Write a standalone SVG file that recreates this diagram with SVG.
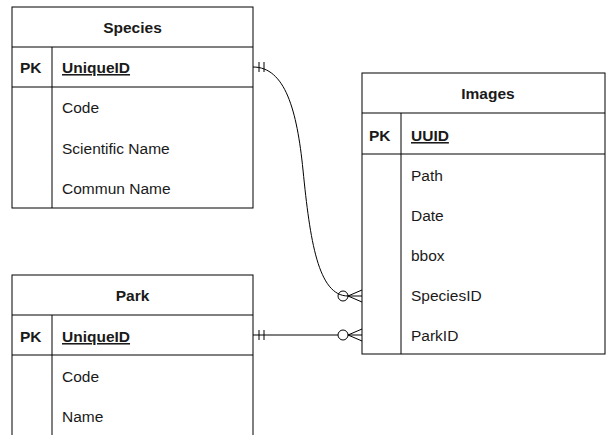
<svg xmlns="http://www.w3.org/2000/svg" width="606" height="435" viewBox="0 0 606 435">
<style>
.box{fill:#fff;stroke:#000;stroke-width:1}
.ln{stroke:#000;stroke-width:1;fill:none}
text{font-family:"Liberation Sans",Arial,sans-serif;font-size:15.5px;fill:#1a1a1a}
.t{font-weight:bold;text-anchor:middle}
.pk{font-weight:bold}
.u{font-weight:bold;text-decoration:underline}
.c{stroke:#000;stroke-width:1;fill:none}
</style>
<rect width="606" height="435" fill="#fff"/>
<g id="species">
<rect class="box" x="12" y="7" width="241" height="201"/>
<line class="ln" x1="12" y1="47" x2="253" y2="47"/>
<line class="ln" x1="12" y1="87" x2="253" y2="87"/>
<line class="ln" x1="52" y1="47" x2="52" y2="208"/>
<text class="t" x="132.5" y="33">Species</text>
<text class="pk" x="20" y="73">PK</text>
<text class="u" x="62" y="73">UniqueID</text>
<text x="62" y="113">Code</text>
<text x="62" y="154">Scientific Name</text>
<text x="62" y="194">Commun Name</text>
</g>
<g id="park">
<rect class="box" x="12" y="275" width="241" height="170"/>
<line class="ln" x1="12" y1="315" x2="253" y2="315"/>
<line class="ln" x1="12" y1="355" x2="253" y2="355"/>
<line class="ln" x1="52" y1="315" x2="52" y2="445"/>
<text class="t" x="132.5" y="301">Park</text>
<text class="pk" x="20" y="342">PK</text>
<text class="u" x="62" y="342">UniqueID</text>
<text x="62" y="382">Code</text>
<text x="62" y="422">Name</text>
</g>
<g id="images">
<rect class="box" x="362" y="73" width="243" height="281"/>
<line class="ln" x1="362" y1="113" x2="605" y2="113"/>
<line class="ln" x1="362" y1="154" x2="605" y2="154"/>
<line class="ln" x1="401" y1="113" x2="401" y2="354"/>
<text class="t" x="488" y="99">Images</text>
<text class="pk" x="369" y="141">PK</text>
<text class="u" x="411" y="141">UUID</text>
<text x="411" y="181">Path</text>
<text x="411" y="221">Date</text>
<text x="411" y="261">bbox</text>
<text x="411" y="301">SpeciesID</text>
<text x="411" y="341">ParkID</text>
</g>
<g id="connectors">
<path class="c" d="M253,67 C285,67 297,110 303,170 C310,240 318,296 348,296 L362,296"/>
<line class="c" x1="259" y1="62" x2="259" y2="72"/>
<line class="c" x1="264" y1="62" x2="264" y2="72"/>
<circle class="c" cx="343" cy="296" r="5" fill="#fff"/>
<path class="c" d="M348,296 L362,290 M348,296 L362,302"/>
<line class="c" x1="253" y1="335" x2="338" y2="335"/>
<line class="c" x1="259" y1="330" x2="259" y2="340"/>
<line class="c" x1="264" y1="330" x2="264" y2="340"/>
<circle class="c" cx="343" cy="335" r="5" fill="#fff"/>
<path class="c" d="M348,335 L362,335 M348,335 L362,329 M348,335 L362,341"/>
</g>
</svg>
